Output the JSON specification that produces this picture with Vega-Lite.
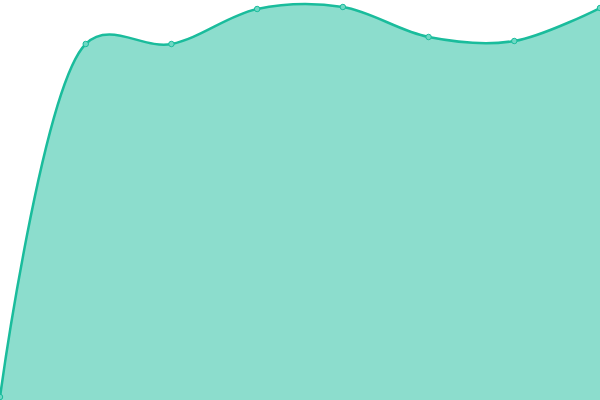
{
  "$schema": "https://vega.github.io/schema/vega-lite/v6.json",
  "autosize": "none",
  "width": 600,
  "height": 400,
  "padding": 0,
  "view": {"stroke": null},
  "data": {"values": [
    {"i": 0, "v": 3},
    {"i": 1, "v": 356},
    {"i": 2, "v": 356},
    {"i": 3, "v": 391},
    {"i": 4, "v": 393},
    {"i": 5, "v": 363},
    {"i": 6, "v": 359},
    {"i": 7, "v": 392}
  ]},
  "encoding": {
    "x": {"field": "i", "type": "quantitative", "scale": {"domain": [0, 7], "nice": false, "zero": false}, "axis": null},
    "y": {"field": "v", "type": "quantitative", "scale": {"domain": [0, 400], "nice": false}, "axis": null}
  },
  "layer": [
    {"mark": {"type": "area", "interpolate": "catmull-rom", "tension": 0.4, "color": "#1abc9c", "opacity": 0.5}},
    {"mark": {"type": "line", "interpolate": "catmull-rom", "tension": 0.4, "color": "#1abc9c", "strokeWidth": 2.5}},
    {"mark": {"type": "point", "filled": true, "size": 30, "fill": "#6fd8c4", "stroke": "#1abc9c", "strokeWidth": 1, "opacity": 1}}
  ]
}
